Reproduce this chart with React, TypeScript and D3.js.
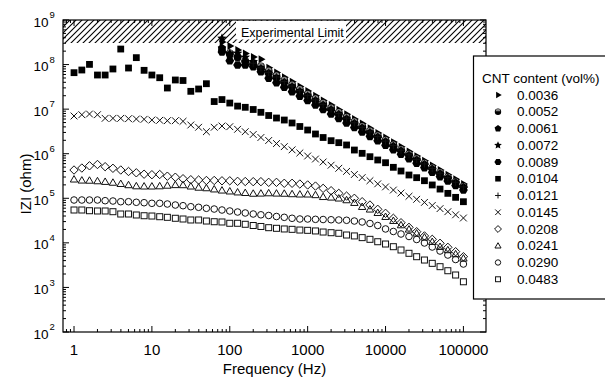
import * as d3 from "d3";

// frequency grid, 10 points per decade
const FREQ = [
  1, 1.26, 1.58, 2, 2.51, 3.16, 3.98, 5.01, 6.31, 7.94,
  10, 12.6, 15.8, 20, 25.1, 31.6, 39.8, 50.1, 63.1, 79.4,
  100, 126, 158, 200, 251, 316, 398, 501, 631, 794,
  1000, 1260, 1580, 2000, 2510, 3160, 3980, 5010, 6310, 7940,
  10000, 12600, 15800, 20000, 25100, 31600, 39800, 50100, 63100, 79400,
  100000,
];
const FREQ_HIGH = FREQ.slice(19); // from 79.4 Hz
const FREQ_PLUS = FREQ.slice(23); // from 200 Hz

// |Z| values (ohm)
const Z_0036 = [3.21e8, 2.61e8, 2.12e8, 1.77e8, 1.48e8, 1.31e8, 8.45e7, 6.65e7, 5.22e7, 4.11e7, 3.24e7, 2.55e7, 2.0e7, 1.57e7, 1.24e7, 9.75e6, 7.66e6, 6.03e6, 4.74e6, 3.73e6, 2.93e6, 2.31e6, 1.82e6, 1.43e6, 1.12e6, 8.83e5, 6.95e5, 5.47e5, 4.3e5, 3.38e5, 2.66e5, 2.09e5];
const Z_0052 = [2.12e8, 1.79e8, 1.48e8, 1.2e8, 1.08e8, 9.08e7, 7.16e7, 5.64e7, 4.44e7, 3.5e7, 2.76e7, 2.17e7, 1.71e7, 1.35e7, 1.06e7, 8.36e6, 6.59e6, 5.19e6, 4.09e6, 3.22e6, 2.54e6, 2.0e6, 1.57e6, 1.24e6, 9.77e5, 7.69e5, 6.07e5, 4.78e5, 3.77e5, 2.96e5, 2.33e5, 1.84e5];
const Z_0061 = [2.35e8, 1.64e8, 1.46e8, 1.14e8, 9.77e7, 7.96e7, 6.3e7, 4.98e7, 3.94e7, 3.11e7, 2.45e7, 1.94e7, 1.53e7, 1.21e7, 9.57e6, 7.57e6, 5.97e6, 4.72e6, 3.73e6, 2.94e6, 2.33e6, 1.84e6, 1.45e6, 1.15e6, 9.08e5, 7.18e5, 5.66e5, 4.48e5, 3.54e5, 2.79e5, 2.21e5, 1.75e5];
const Z_0072 = [3.88e8, 1.79e8, 1.79e8, 1.46e8, 1.16e8, 7.28e7, 5.76e7, 4.55e7, 3.61e7, 2.85e7, 2.26e7, 1.79e7, 1.41e7, 1.12e7, 8.85e6, 7.0e6, 5.55e6, 4.39e6, 3.47e6, 2.75e6, 2.17e6, 1.72e6, 1.36e6, 1.08e6, 8.53e5, 6.75e5, 5.35e5, 4.23e5, 3.34e5, 2.65e5, 2.09e5, 1.66e5];
const Z_0089 = [1.91e8, 1.22e8, 9.77e7, 9.77e7, 8.95e7, 6.92e7, 4.93e7, 3.92e7, 3.11e7, 2.47e7, 1.96e7, 1.56e7, 1.24e7, 9.79e6, 7.78e6, 6.18e6, 4.9e6, 3.89e6, 3.09e6, 2.45e6, 1.95e6, 1.55e6, 1.23e6, 9.73e5, 7.73e5, 6.14e5, 4.88e5, 3.86e5, 3.07e5, 2.44e5, 1.93e5, 1.53e5];
const Z_0104 = [6.58e7, 7.55e7, 1.01e8, 5.83e7, 5.83e7, 7.96e7, 2.23e8, 8.37e7, 1.43e8, 7.43e7, 5.83e7, 5.07e7, 2.98e7, 4.51e7, 4.39e7, 2.51e7, 2.83e7, 3.72e7, 1.48e7, 1.64e7, 1.37e7, 1.17e7, 1.1e7, 9.82e6, 8.49e6, 7.2e6, 6.32e6, 5.7e6, 4.89e6, 4.08e6, 3.4e6, 2.77e6, 2.31e6, 1.96e6, 1.77e6, 1.57e6, 1.21e6, 1.02e6, 8.57e5, 7.23e5, 6.28e5, 4.95e5, 4.09e5, 3.33e5, 2.9e5, 2.48e5, 1.99e5, 1.61e5, 1.29e5, 1.05e5, 8.38e4];
const Z_0121 = [1.07e8, 8.47e7, 6.68e7, 5.27e7, 4.17e7, 3.29e7, 2.59e7, 2.05e7, 1.62e7, 1.28e7, 1.01e7, 7.94e6, 6.28e6, 4.95e6, 3.91e6, 3.08e6, 2.43e6, 1.92e6, 1.52e6, 1.2e6, 9.44e5, 7.46e5, 5.89e5, 4.65e5, 3.66e5, 2.9e5, 2.29e5, 1.8e5];
const Z_0145 = [7.02e6, 7.5e6, 7.78e6, 7.5e6, 6.22e6, 6.22e6, 6.22e6, 6.11e6, 6.01e6, 5.92e6, 5.7e6, 5.62e6, 5.51e6, 5.51e6, 5.33e6, 4.41e6, 3.92e6, 3.12e6, 3.92e6, 4.19e6, 4.04e6, 3.53e6, 3.12e6, 2.7e6, 2.31e6, 1.98e6, 1.69e6, 1.44e6, 1.22e6, 1.04e6, 8.89e5, 7.6e5, 6.52e5, 5.52e5, 4.71e5, 4.01e5, 3.42e5, 2.91e5, 2.48e5, 2.11e5, 1.8e5, 1.53e5, 1.31e5, 1.11e5, 9.48e4, 8.09e4, 6.89e4, 5.86e4, 5.0e4, 4.26e4, 3.61e4];
const Z_0208 = [4.31e5, 4.77e5, 5.36e5, 5.73e5, 5.12e5, 4.71e5, 4.31e5, 3.99e5, 3.73e5, 3.47e5, 3.38e5, 3.42e5, 3.13e5, 2.97e5, 2.75e5, 2.61e5, 2.57e5, 2.51e5, 2.51e5, 2.47e5, 2.47e5, 2.4e5, 2.38e5, 2.36e5, 2.36e5, 2.28e5, 2.28e5, 2.17e5, 2.17e5, 2.09e5, 1.99e5, 1.88e5, 1.67e5, 1.48e5, 1.29e5, 1.12e5, 1.0e5, 8.38e4, 7.06e4, 5.66e4, 4.6e4, 3.56e4, 2.83e4, 2.23e4, 1.78e4, 1.43e4, 1.2e4, 9.77e3, 7.94e3, 6.33e3, 4.89e3];
const Z_0241 = [2.67e5, 2.53e5, 2.51e5, 2.44e5, 2.36e5, 2.26e5, 2.12e5, 1.99e5, 1.88e5, 1.86e5, 1.86e5, 1.88e5, 1.94e5, 2.0e5, 1.99e5, 1.86e5, 1.75e5, 1.7e5, 1.6e5, 1.51e5, 1.44e5, 1.37e5, 1.33e5, 1.28e5, 1.29e5, 1.31e5, 1.29e5, 1.28e5, 1.25e5, 1.23e5, 1.23e5, 1.19e5, 1.08e5, 1.05e5, 1.0e5, 9.15e4, 7.96e4, 6.47e4, 5.66e4, 4.74e4, 3.86e4, 3.14e4, 2.51e4, 2.01e4, 1.64e4, 1.33e4, 1.06e4, 8.2e3, 6.92e3, 5.62e3, 4.5e3];
const Z_0290 = [9.15e4, 9.15e4, 9.15e4, 9.15e4, 8.83e4, 8.69e4, 8.38e4, 8.38e4, 8.13e4, 7.96e4, 7.71e4, 7.71e4, 7.44e4, 7.06e4, 6.82e4, 6.47e4, 6.28e4, 5.96e4, 5.74e4, 5.46e4, 5.19e4, 4.92e4, 4.68e4, 4.44e4, 4.26e4, 4.11e4, 3.9e4, 3.74e4, 3.56e4, 3.43e4, 3.43e4, 3.37e4, 3.34e4, 3.3e4, 3.26e4, 3.21e4, 3.09e4, 2.94e4, 2.72e4, 2.45e4, 2.05e4, 1.8e4, 1.58e4, 1.39e4, 1.19e4, 9.93e3, 8.07e3, 6.56e3, 5.33e3, 4.23e3, 3.35e3];
const Z_0483 = [5.46e4, 5.46e4, 5.26e4, 5.19e4, 5.19e4, 5.0e4, 4.44e4, 4.44e4, 4.22e4, 4.06e4, 4.0e4, 3.86e4, 3.74e4, 3.56e4, 3.43e4, 3.26e4, 3.26e4, 3.09e4, 2.98e4, 2.94e4, 2.75e4, 2.75e4, 2.61e4, 2.45e4, 2.33e4, 2.19e4, 2.12e4, 2.05e4, 2.01e4, 1.94e4, 1.91e4, 1.85e4, 1.75e4, 1.69e4, 1.64e4, 1.5e4, 1.43e4, 1.31e4, 1.2e4, 1.06e4, 9.42e3, 8.2e3, 6.92e3, 5.83e3, 4.89e3, 4.12e3, 3.47e3, 2.92e3, 2.37e3, 1.9e3, 1.34e3];

const X_TICKS = [1, 10, 100, 1000, 10000, 100000];
const X_LABELS = ["1", "10", "100", "1000", "10000", "100000"];
const Y_EXPONENTS = [2, 3, 4, 5, 6, 7, 8, 9];

type Marker =
  | "triR" | "halfCircle" | "pentagon" | "star" | "hexagon" | "squareF"
  | "plus" | "cross" | "diamond" | "triUp" | "circleO" | "squareO";

const SERIES: { label: string; freq: number[]; values: number[]; marker: Marker }[] = [
  { label: "0.0036", freq: FREQ_HIGH, values: Z_0036, marker: "triR" },
  { label: "0.0052", freq: FREQ_HIGH, values: Z_0052, marker: "halfCircle" },
  { label: "0.0061", freq: FREQ_HIGH, values: Z_0061, marker: "pentagon" },
  { label: "0.0072", freq: FREQ_HIGH, values: Z_0072, marker: "star" },
  { label: "0.0089", freq: FREQ_HIGH, values: Z_0089, marker: "hexagon" },
  { label: "0.0104", freq: FREQ, values: Z_0104, marker: "squareF" },
  { label: "0.0121", freq: FREQ_PLUS, values: Z_0121, marker: "plus" },
  { label: "0.0145", freq: FREQ, values: Z_0145, marker: "cross" },
  { label: "0.0208", freq: FREQ, values: Z_0208, marker: "diamond" },
  { label: "0.0241", freq: FREQ, values: Z_0241, marker: "triUp" },
  { label: "0.0290", freq: FREQ, values: Z_0290, marker: "circleO" },
  { label: "0.0483", freq: FREQ, values: Z_0483, marker: "squareO" },
];

const FONT = "'Liberation Sans', Arial, Helvetica, sans-serif";
const W = 605;
const H = 379;
const M = { left: 63, right: 486, top: 20, bottom: 332 };

const x = d3.scaleLog().domain([0.722, 1.95e5]).range([M.left, M.right]);
const y = d3.scaleLog().domain([100, 1e9]).range([M.bottom, M.top]);

function poly(n: number, r: number, rot: number) {
  const pts = d3.range(n).map((i) => {
    const a = rot + (i * 2 * Math.PI) / n;
    return `${(r * Math.cos(a)).toFixed(2)},${(r * Math.sin(a)).toFixed(2)}`;
  });
  return "M" + pts.join("L") + "Z";
}

function starPath(ro: number, ri: number) {
  const pts = d3.range(10).map((i) => {
    const a = -Math.PI / 2 + (i * Math.PI) / 5;
    const r = i % 2 === 0 ? ro : ri;
    return `${(r * Math.cos(a)).toFixed(2)},${(r * Math.sin(a)).toFixed(2)}`;
  });
  return "M" + pts.join("L") + "Z";
}

function MarkerShape({ kind, cx, cy, k = 1 }: { kind: Marker; cx: number; cy: number; k?: number }) {
  const t = `translate(${cx},${cy})`;
  const open = { fill: "none", stroke: "#111", strokeWidth: 1 };
  switch (kind) {
    case "triR":
      return <path transform={t} d={poly(3, 4.6 * k, 0)} fill="#000" />;
    case "halfCircle": {
      const r = 3.9 * k;
      return (
        <g transform={t}>
          <circle r={r} fill="#000" />
          <path d={`M${-r * 0.75},${-r * 0.15} A${r * 0.75},${r * 0.75} 0 0 1 ${r * 0.75},${-r * 0.15} Z`} fill="#8a8a8a" />
        </g>
      );
    }
    case "pentagon":
      return <path transform={t} d={poly(5, 4.4 * k, -Math.PI / 2)} fill="#000" />;
    case "star":
      return <path transform={t} d={starPath(5 * k, 2.3 * k)} fill="#000" />;
    case "hexagon":
      return <path transform={t} d={poly(6, 4.4 * k, 0)} fill="#000" />;
    case "squareF": {
      const s = 3.4 * k;
      return <rect x={cx - s} y={cy - s} width={2 * s} height={2 * s} fill="#000" />;
    }
    case "plus": {
      const s = 3.6 * k;
      return <path transform={t} d={`M${-s},0H${s}M0,${-s}V${s}`} {...open} />;
    }
    case "cross": {
      const s = 3.4 * k;
      return <path transform={t} d={`M${-s},${-s}L${s},${s}M${-s},${s}L${s},${-s}`} {...open} />;
    }
    case "diamond": {
      const s = 4.2 * k;
      return <path transform={t} d={`M0,${-s}L${s},0L0,${s}L${-s},0Z`} {...open} />;
    }
    case "triUp":
      return <path transform={`translate(${cx},${cy + 0.6 * k})`} d={poly(3, 4.3 * k, -Math.PI / 2)} {...open} />;
    case "circleO":
      return <circle cx={cx} cy={cy} r={3.3 * k} {...open} />;
    case "squareO": {
      const s = 3.0 * k;
      return <rect x={cx - s} y={cy - s} width={2 * s} height={2 * s} {...open} />;
    }
  }
}

export default function App() {
  const xTicks = x.ticks();
  const yTicks = y.ticks();
  const isMajor = (v: number) => Math.abs(Math.log10(v) - Math.round(Math.log10(v))) < 1e-6;
  const hatchBottom = 43;

  const legendX = 473.5;
  const legendY = 56;
  const rowY = (i: number) => 95 + i * 16.75;

  return (
    <svg
      width={W}
      height={H}
      style={{ position: "absolute", left: 0, top: 0, background: "#fff" }}
      fontFamily={FONT}
    >
      <defs>
        <pattern id="hatch" patternUnits="userSpaceOnUse" width="6" height="6">
          <path d="M-1,1 l2,-2 M0,6 l6,-6 M5,7 l2,-2" stroke="#000" strokeWidth="1.1" />
        </pattern>
      </defs>
      <rect x={0} y={0} width={W} height={H} fill="#fff" />

      {/* experimental limit band */}
      <rect x={M.left} y={M.top} width={M.right - M.left} height={hatchBottom - M.top} fill="url(#hatch)" />

      {/* ticks, inward on all sides */}
      <g stroke="#000" strokeWidth={1}>
        {xTicks.map((t, i) => {
          const len = isMajor(t) ? 6 : 3;
          return (
            <g key={`x${i}`}>
              <line x1={x(t)} x2={x(t)} y1={M.bottom} y2={M.bottom - len} />
              <line x1={x(t)} x2={x(t)} y1={M.top} y2={M.top + len} />
            </g>
          );
        })}
        {yTicks.map((t, i) => {
          const len = isMajor(t) ? 6 : 3;
          return (
            <g key={`y${i}`}>
              <line x1={M.left} x2={M.left + len} y1={y(t)} y2={y(t)} />
              <line x1={M.right} x2={M.right - len} y1={y(t)} y2={y(t)} />
            </g>
          );
        })}
      </g>

      <rect x={236} y={M.top + 0.8} width={110} height={18.7} fill="#fff" />
      <text x={241} y={36.5} fontSize={12.5} fill="#000">
        Experimental Limit
      </text>

      {/* frame */}
      <rect x={M.left} y={M.top} width={M.right - M.left} height={M.bottom - M.top} fill="none" stroke="#000" strokeWidth={1.2} />

      {/* data */}
      {SERIES.map((s) => (
        <g key={s.label}>
          {s.values.map((v, i) => (
            <MarkerShape key={i} kind={s.marker} cx={x(s.freq[i])} cy={y(v)} />
          ))}
        </g>
      ))}

      {/* x tick labels */}
      {X_TICKS.map((t, i) => (
        <text key={t} x={x(t)} y={355} fontSize={15} textAnchor="middle" fill="#000">
          {X_LABELS[i]}
        </text>
      ))}
      <text x={(M.left + M.right) / 2} y={374} fontSize={15} textAnchor="middle" fill="#000">
        Frequency (Hz)
      </text>

      {/* y tick labels */}
      {Y_EXPONENTS.map((p) => (
        <g key={p}>
          <text x={48.5} y={y(10 ** p) + 6.6} fontSize={13.5} textAnchor="end" fill="#000">
            10
          </text>
          <text x={49.5} y={y(10 ** p) - 1.8} fontSize={9.5} fill="#000">
            {p}
          </text>
        </g>
      ))}
      <text
        transform={`translate(31,184) rotate(-90)`}
        fontSize={15}
        textAnchor="middle"
        fill="#000"
      >
        IZI (ohm)
      </text>

      {/* legend */}
      <rect x={legendX} y={legendY} width={200} height={243} fill="#fff" stroke="#000" strokeWidth={1.2} />
      <text x={482} y={82.5} fontSize={13.5} fill="#000">
        CNT content (vol%)
      </text>
      {SERIES.map((s, i) => (
        <g key={s.label}>
          <MarkerShape kind={s.marker} cx={498} cy={rowY(i)} k={0.82} />
          <text x={517} y={rowY(i) + 4.6} fontSize={13.5} fill="#000">
            {s.label}
          </text>
        </g>
      ))}
    </svg>
  );
}
